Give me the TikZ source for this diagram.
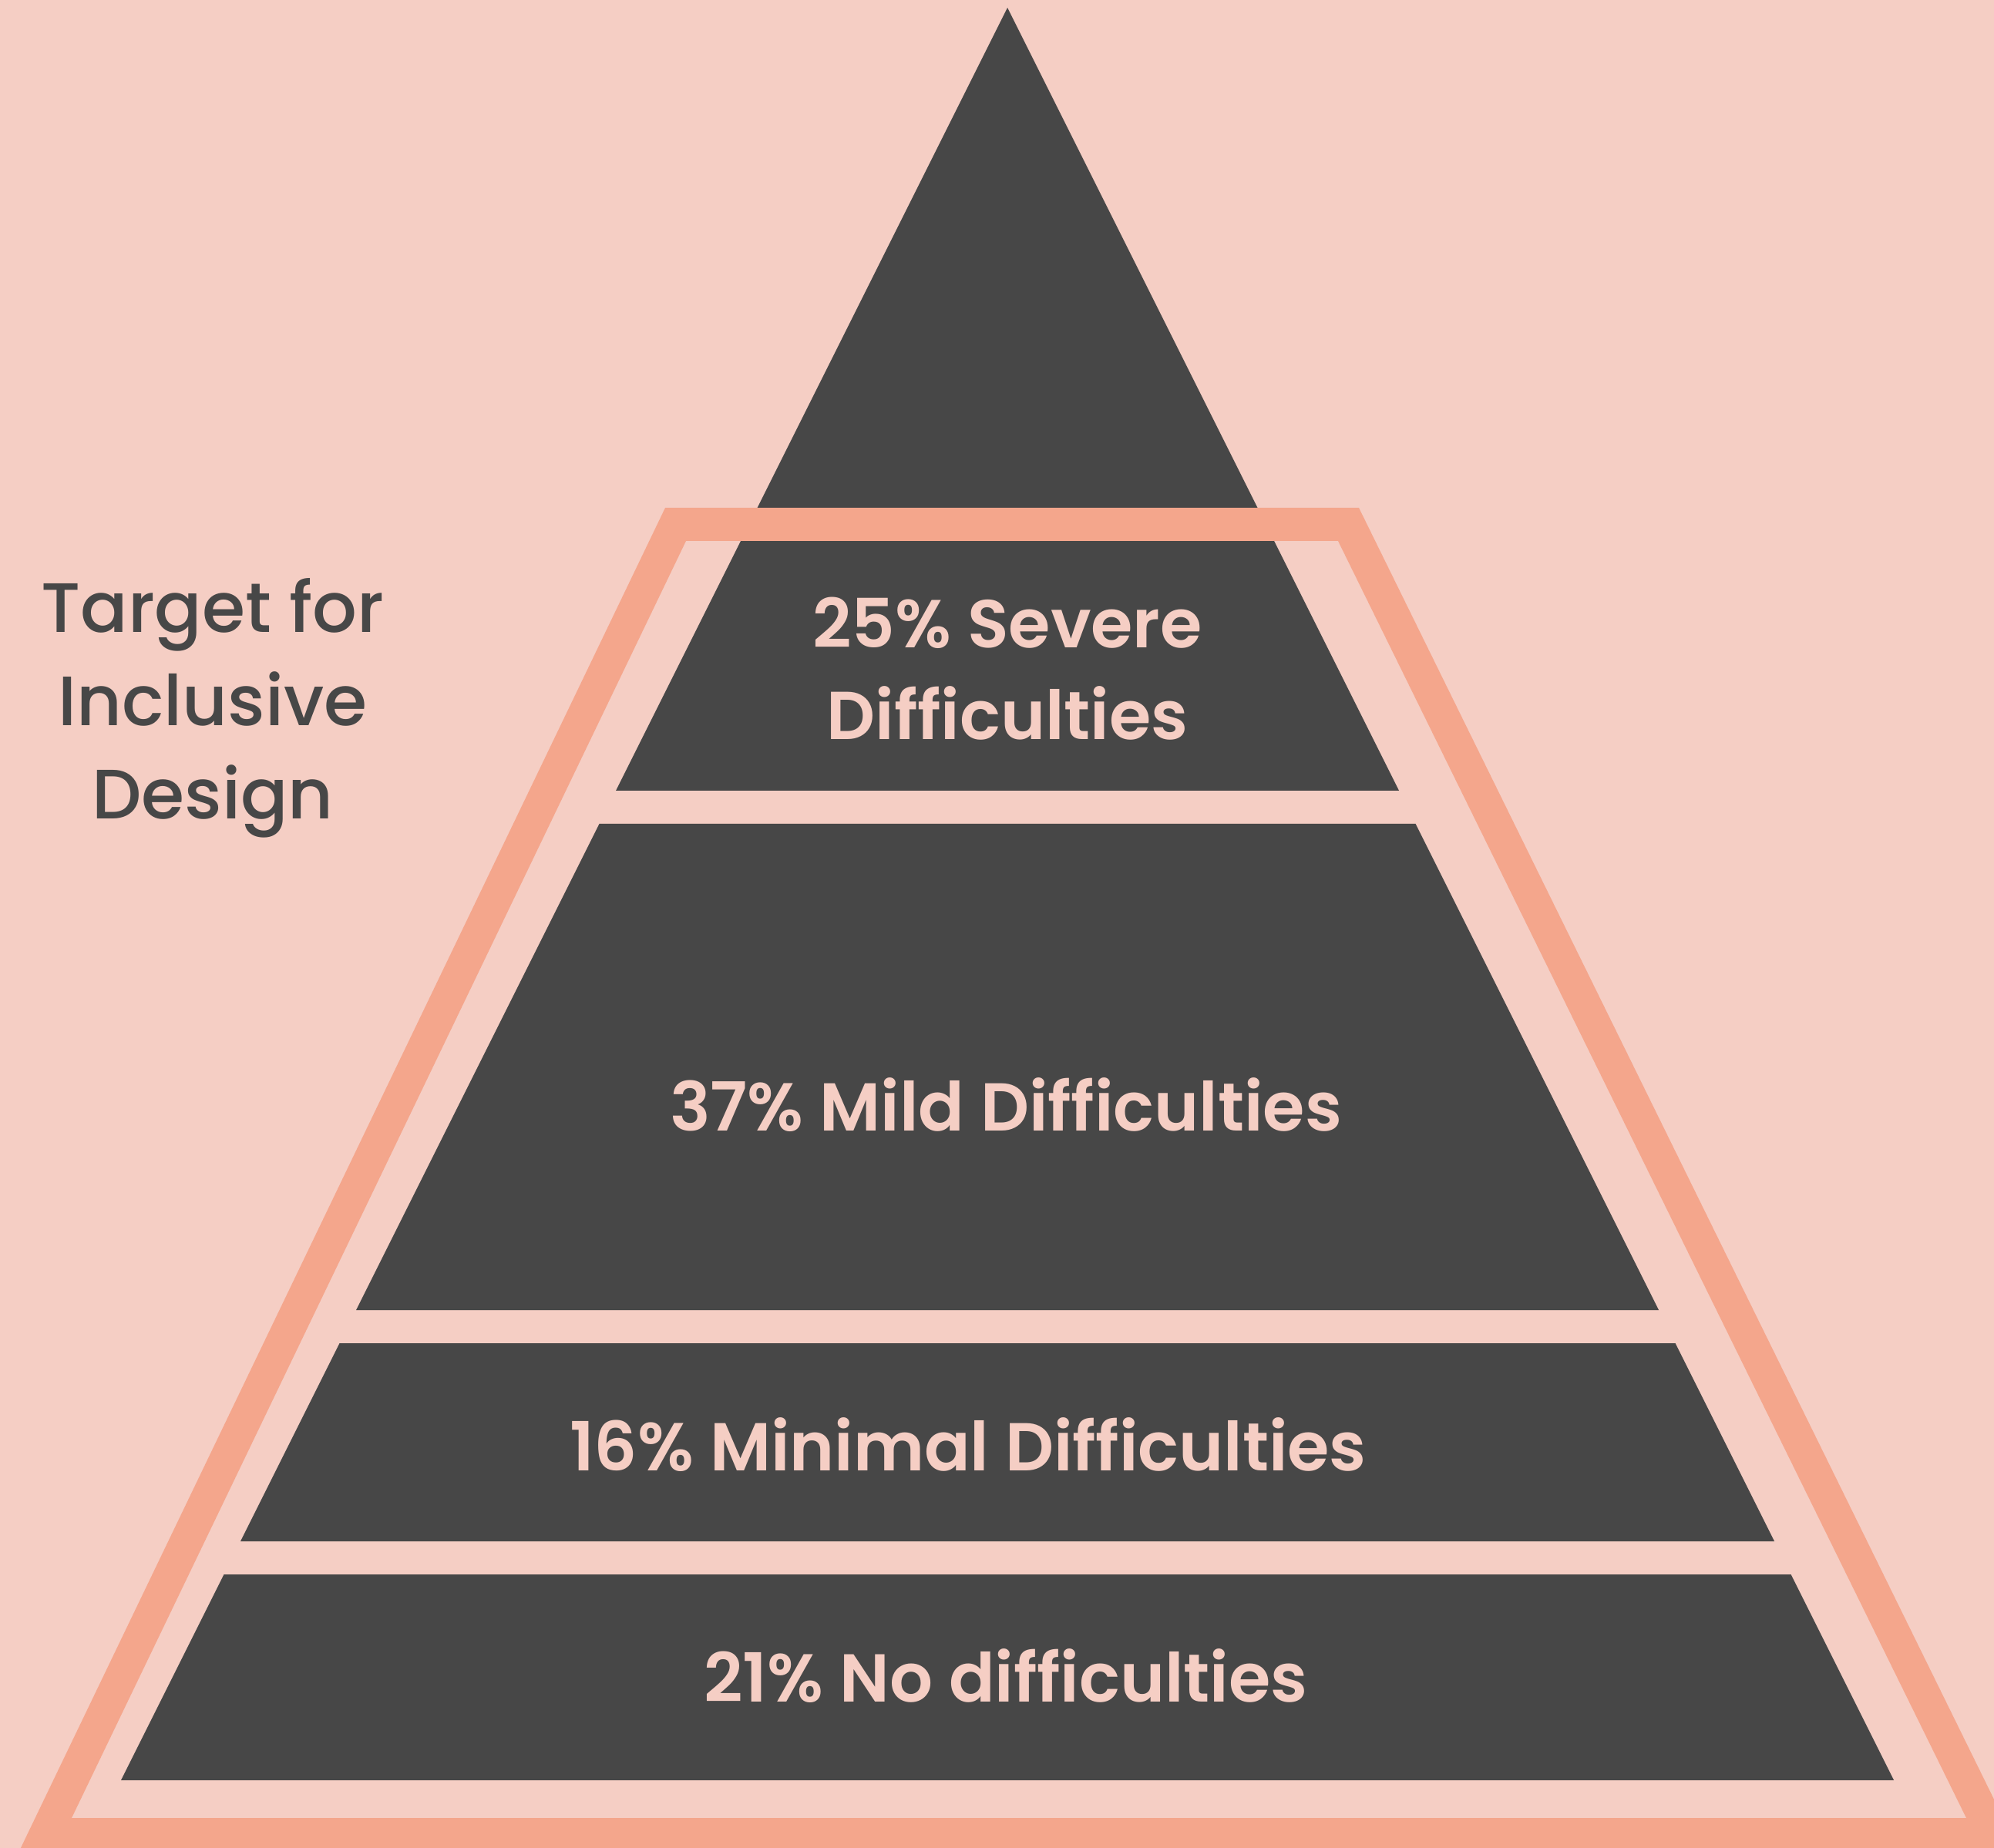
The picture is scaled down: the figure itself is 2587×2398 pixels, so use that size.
\documentclass[tikz,border=0pt]{standalone}
\usepackage{fontspec}
\setmainfont{Poppins}[BoldFont={Poppins SemiBold}]
\newfontfamily\sidefont{Poppins Medium}
\usetikzlibrary{positioning}
\definecolor{bg}{RGB}{245,206,196}
\definecolor{slate}{RGB}{71,71,71}
\definecolor{salmon}{RGB}{244,166,140}
\begin{document}
\begin{tikzpicture}[
    x=0.01cm, y=-0.01cm,
    lvl/.style={fill=slate},
    lbl/.style={anchor=base, inner sep=0pt, text=bg, align=center, font=\fontsize{25}{34.1}\selectfont\bfseries},
    side/.style={anchor=base, inner sep=0pt, text=slate, align=center, font=\fontsize{25.8}{34.5}\selectfont\sidefont}
]
\useasboundingbox (0,0) rectangle (2587,2398);
\fill[bg] (0,0) rectangle (2587,2398);
\clip (0,0) rectangle (2587,2398);
% pyramid: apex at (1307,10), half width grows 0.5 per unit down
\fill[lvl] (1307,10) -- (1815,1026) -- (799,1026) -- cycle;
\foreach \ya/\yb [evaluate=\ya as \wa using 0.5*(\ya-10), evaluate=\yb as \wb using 0.5*(\yb-10)] in {1069/1700, 1743/2000, 2043/2310}
  \fill[lvl] (1307-\wa,\ya) -- (1307+\wa,\ya) -- (1307+\wb,\yb) -- (1307-\wb,\yb) -- cycle;
% target frame
\fill[salmon, even odd rule] (863,659) -- (1763,659) -- (2620,2402) -- (25,2402) -- cycle
  (890,702) -- (1736,702) -- (2551,2359) -- (93,2359) -- cycle;
% multi-line nodes sit on the baseline of their last line
\node[lbl] (severe) at (1307,960) {25\% Severe\\Difficulties};
\node[lbl] (mild) at (1305,1467) {37\% Mild Difficulties};
\node[lbl] (minimal) at (1256,1908) {16\% Minimal Difficulties};
\node[lbl] (none) at (1305,2208) {21\% No difficulties};
\node[side] (target) at (276,1063) {Target for\\Inclusive\\Design};
\end{tikzpicture}
\end{document}
